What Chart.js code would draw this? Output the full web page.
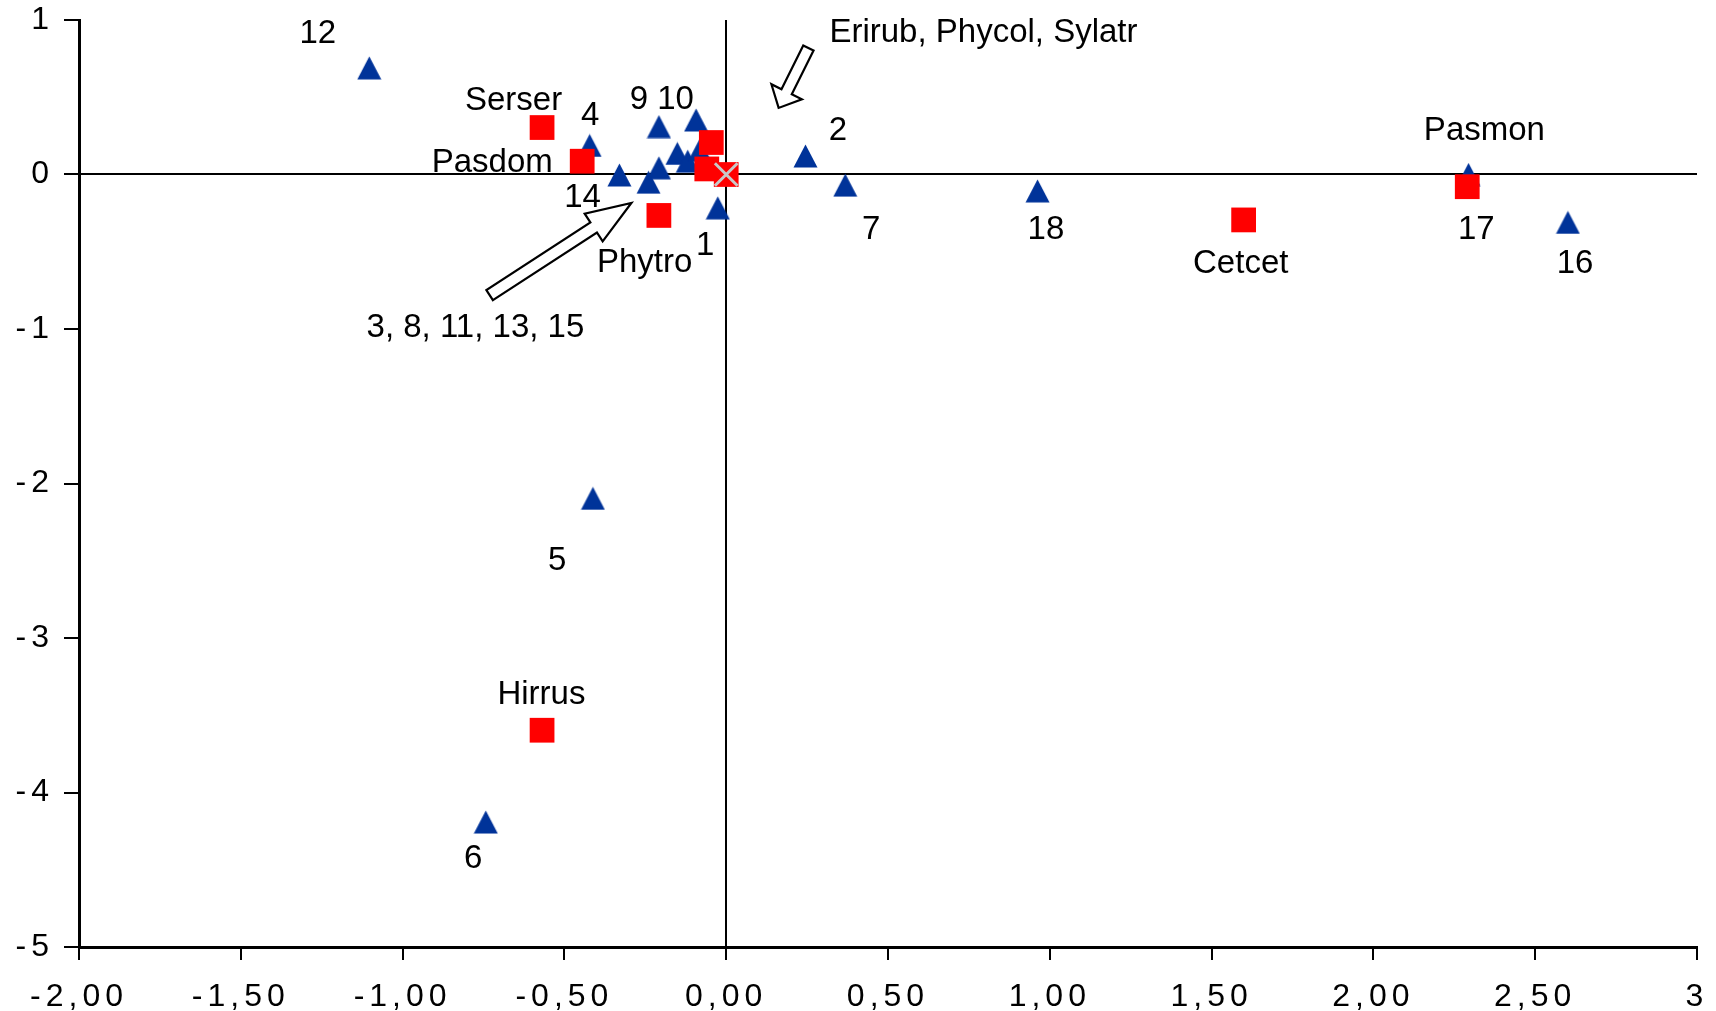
<!DOCTYPE html>
<html>
<head>
<meta charset="utf-8">
<script src="https://cdn.jsdelivr.net/npm/chart.js@4.4.1/dist/chart.umd.min.js"></script>
<style>
  html, body { margin: 0; padding: 0; background: #fff; }
  #wrap { width: 1716px; height: 1011px; }
</style>
</head>
<body>
<div id="wrap"><canvas id="ordChart"></canvas></div>
<script>
// sites (blue triangles)
const siteNames = ['1', '2', '3', '4', '5', '6', '7', '8', '9', '10', '11', '12', '13', '14', '15', '16', '17', '18'];
const siteX = [-0.026, 0.245, -0.240, -0.422, -0.412, -0.743, 0.368, -0.208, -0.208, -0.093, -0.151, -1.103, -0.119, -0.330, -0.082, 2.601, 2.294, 0.962];
const siteY = [-0.216, 0.120, -0.050, 0.188, -2.096, -4.191, -0.069, 0.043, 0.310, 0.353, 0.136, 0.690, 0.086, -0.003, 0.157, -0.310, 0.000, -0.106];

// species (red squares)
const speciesNames = ['Serser', 'Pasdom', 'Phytro', 'Hirrus', 'Cetcet', 'Pasmon', 'Erirub', 'Phycol', 'Sylatr'];
const speciesX = [-0.569, -0.445, -0.208, -0.569, 1.599, 2.290, -0.046, -0.060, 0.000];
const speciesY = [0.304, 0.086, -0.265, -3.597, -0.294, -0.079, 0.207, 0.036, 0.000];

// centre mark
const centreX = [0];
const centreY = [0];

const xTickLabels = ['-2,00', '-1,50', '-1,00', '-0,50', '0,00', '0,50', '1,00', '1,50', '2,00', '2,50', '3'];
const yTickLabels = ['-5', '-4', '-3', '-2', '-1', '0', '1'];

// text labels placed on the plot (data coords, baseline)
const notes = [
  { text: '12', x: -1.262, y: 0.851 },
  { text: 'Serser', x: -0.657, y: 0.420 },
  { text: '4', x: -0.420, y: 0.319 },
  { text: '9 10', x: -0.199, y: 0.427 },
  { text: 'Pasdom', x: -0.723, y: 0.017 },
  { text: '14', x: -0.444, y: -0.212 },
  { text: 'Phytro', x: -0.252, y: -0.632 },
  { text: '1', x: -0.065, y: -0.522 },
  { text: '3, 8, 11, 13, 15', x: -0.775, y: -1.050 },
  { text: 'Erirub, Phycol, Sylatr', x: 0.795, y: 0.858 },
  { text: '2', x: 0.345, y: 0.222 },
  { text: '7', x: 0.448, y: -0.420 },
  { text: '18', x: 0.988, y: -0.420 },
  { text: 'Pasmon', x: 2.343, y: 0.222 },
  { text: '17', x: 2.318, y: -0.420 },
  { text: '16', x: 2.623, y: -0.636 },
  { text: 'Cetcet', x: 1.590, y: -0.640 },
  { text: '5', x: -0.522, y: -2.560 },
  { text: 'Hirrus', x: -0.571, y: -3.428 },
  { text: '6', x: -0.782, y: -4.489 }
];

const arrows = [
  { from: [-0.731, -0.781], to: [-0.293, -0.184], shaft: 12, headW: 33, headL: 45 },
  { from: [0.254, 0.819], to: [0.162, 0.431], shaft: 11.5, headW: 34, headL: 18 }
];

const FONT = "'Liberation Sans', Arial, sans-serif";

function toPoints(xs, ys) {
  return xs.map((x, i) => ({ x: x, y: ys[i] }));
}

// triangle marker as a small canvas
function makeTriangle(w, h, color) {
  const c = document.createElement('canvas');
  c.width = w; c.height = h;
  const g = c.getContext('2d');
  g.fillStyle = color;
  g.beginPath();
  g.moveTo(w / 2, 0.5);
  g.lineTo(w - 0.5, h - 0.5);
  g.lineTo(0.5, h - 0.5);
  g.closePath();
  g.fill();
  return c;
}
const triangle = makeTriangle(25, 24, '#003399');

const overlay = {
  id: 'overlay',
  beforeDraw(chart) {
    chart.ctx.letterSpacing = '5px';
  },
  afterDatasetsDraw(chart) {
    const ctx = chart.ctx;
    const xs = chart.scales.x, ys = chart.scales.y;
    ctx.save();
    ctx.letterSpacing = '0px';

    arrows.forEach(a => {
      const x0 = xs.getPixelForValue(a.from[0]), y0 = ys.getPixelForValue(a.from[1]);
      const x1 = xs.getPixelForValue(a.to[0]), y1 = ys.getPixelForValue(a.to[1]);
      const len = Math.hypot(x1 - x0, y1 - y0);
      const dx = (x1 - x0) / len, dy = (y1 - y0) / len;
      const nx = -dy, ny = dx;
      const bx = x1 - dx * a.headL, by = y1 - dy * a.headL;
      const s = a.shaft / 2, h = a.headW / 2;
      ctx.beginPath();
      ctx.moveTo(x0 + nx * s, y0 + ny * s);
      ctx.lineTo(bx + nx * s, by + ny * s);
      ctx.lineTo(bx + nx * h, by + ny * h);
      ctx.lineTo(x1, y1);
      ctx.lineTo(bx - nx * h, by - ny * h);
      ctx.lineTo(bx - nx * s, by - ny * s);
      ctx.lineTo(x0 - nx * s, y0 - ny * s);
      ctx.closePath();
      ctx.fillStyle = '#fff';
      ctx.fill();
      ctx.lineWidth = 2.2;
      ctx.lineJoin = 'miter';
      ctx.strokeStyle = '#000';
      ctx.stroke();
    });

    ctx.font = '33px ' + FONT;
    ctx.fillStyle = '#000';
    ctx.textAlign = 'center';
    ctx.textBaseline = 'alphabetic';
    notes.forEach(n => {
      ctx.fillText(n.text, xs.getPixelForValue(n.x), ys.getPixelForValue(n.y));
    });
    ctx.restore();
  }
};

const zeroGrid = {
  color: c => (c.tick && c.tick.value === 0 ? '#000' : 'rgba(0,0,0,0)'),
  lineWidth: 2,
  tickColor: '#000',
  tickWidth: 2
};

new Chart(document.getElementById('ordChart'), {
  type: 'scatter',
  data: {
    datasets: [
      {
        label: 'centre',
        data: toPoints(centreX, centreY),
        pointStyle: 'crossRot',
        pointRadius: 16,
        borderColor: '#c8c8c8',
        borderWidth: 3,
        order: 1
      },
      {
        label: 'species',
        data: toPoints(speciesX, speciesY),
        pointStyle: 'rect',
        pointRadius: 17.5,
        backgroundColor: '#ff0000',
        borderWidth: 0,
        order: 2
      },
      {
        label: 'sites',
        data: toPoints(siteX, siteY),
        pointStyle: triangle,
        order: 3
      }
    ]
  },
  options: {
    responsive: true,
    maintainAspectRatio: false,
    animation: false,
    events: [],
    layout: { padding: { top: 20, right: 17, bottom: 0, left: 0 } },
    plugins: { legend: { display: false }, tooltip: { enabled: false } },
    scales: {
      x: {
        type: 'linear',
        min: -2, max: 3,
        afterFit: s => { s.height = 64; s.paddingLeft = 0; s.paddingRight = 0; },
        border: { display: true, color: '#000', width: 3 },
        grid: Object.assign({ tickLength: 13 }, zeroGrid),
        ticks: {
          stepSize: 0.5,
          padding: 18,
          color: '#000',
          maxRotation: 0,
          autoSkip: false,
          font: { family: FONT, size: 32 },
          callback: (v, i) => xTickLabels[i]
        }
      },
      y: {
        type: 'linear',
        min: -5, max: 1,
        afterFit: s => { s.width = 79; s.paddingTop = 0; s.paddingBottom = 0; },
        border: { display: true, color: '#000', width: 3 },
        grid: Object.assign({ tickLength: 15 }, zeroGrid),
        ticks: {
          stepSize: 1,
          padding: 10,
          color: '#000',
          autoSkip: false,
          font: { family: FONT, size: 32 },
          callback: (v, i) => yTickLabels[i]
        }
      }
    }
  },
  plugins: [overlay]
});
</script>
</body>
</html>
